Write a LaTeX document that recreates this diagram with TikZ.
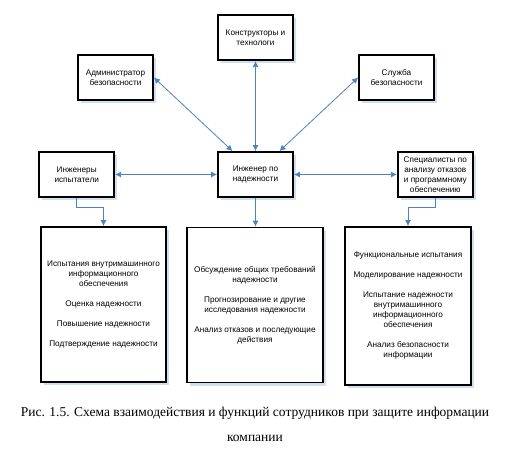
\documentclass[tikz,border=0pt]{standalone}
\usepackage{fontspec}
\setmainfont{Liberation Serif}
\newfontfamily\boxfont{Liberation Sans}
\usetikzlibrary{positioning,arrows.meta,shadows}

\definecolor{linkblue}{RGB}{79,129,189}
\definecolor{shadowblue}{RGB}{208,223,240}

\begin{document}
\begin{tikzpicture}[x=1pt, y=-1pt,
    every node/.style={font=\boxfont\fontsize{8.2}{10}\selectfont},
    role/.style={rectangle, draw, line width=1.8pt, fill=white, align=center,
        minimum width=75pt, minimum height=45pt, inner sep=2pt,
        drop shadow={shadow xshift=3pt, shadow yshift=-3pt, fill=shadowblue, opacity=1}},
    duties/.style={role, minimum height=155pt},
    link/.style={draw=linkblue, line width=0.8pt, {Latex[length=6pt,width=6pt]}-{Latex[length=6pt,width=6pt]}},
    feed/.style={draw=linkblue, line width=0.8pt, -{Latex[length=6pt,width=6pt]}}]
    % white background
    \fill[white] (0,0) rectangle (511,460);
    % staff
    \node (engineer) [role] at (255.5,174.5) {Инженер по\\надежности};
    \node (designers) [role, above=90pt of engineer] {Конструкторы и\\технологи};
    \node (admin) [role] at (115.5,77.5) {Администратор\\безопасности};
    \node (service) [role] at (396.5,77.5) {Служба\\безопасности};
    \node (testers) [role, left=102pt of engineer] {Инженеры\\испытатели};
    \node (analysts) [role, right=103pt of engineer] {Специалисты по\\анализу отказов\\и программному\\обеспечению};
    % duties
    \node (tests) [duties, minimum width=125pt] at (103.5,304.5) {Испытания внутримашинного\\информационного\\обеспечения\\[10pt]Оценка надежности\\[10pt]Повышение надежности\\[10pt]Подтверждение надежности};
    \node (reliability) [duties, minimum width=136pt] at (255,305) {Обсуждение общих требований\\надежности\\[10pt]Прогнозирование и другие\\исследования надежности\\[10pt]Анализ отказов и последующие\\действия};
    \node (analysis) [duties, minimum width=126pt, minimum height=158pt] at (408,306) {Функциональные испытания\\[10pt]Моделирование надежности\\[10pt]Испытание надежности\\внутримашинного\\информационного\\обеспечения\\[10pt]Анализ безопасности\\информации};
    % caption
    \node (caption) [font=\fontsize{13.5}{25}\selectfont, align=center] at (255,424.5) {Рис. 1.5. Схема взаимодействия и функций сотрудников при защите информации\\компании};
    % arrows
    \draw[link] (engineer.north) -- (designers);
    \draw[link] ([xshift=-23pt]engineer.north) -- (admin.east);
    \draw[link] ([xshift=24pt]engineer.north) -- (service.west);
    \draw[link] (testers) -- (engineer);
    \draw[link] (engineer) -- (analysts);
    \draw[feed] (testers.south) -- ++(0,9) -| (tests.north);
    \draw[feed] (engineer.south) -- (engineer.south |- reliability.north);
    \draw[feed] (analysts.south) -- ++(0,9) -| (analysis.north);
\end{tikzpicture}
\end{document}
